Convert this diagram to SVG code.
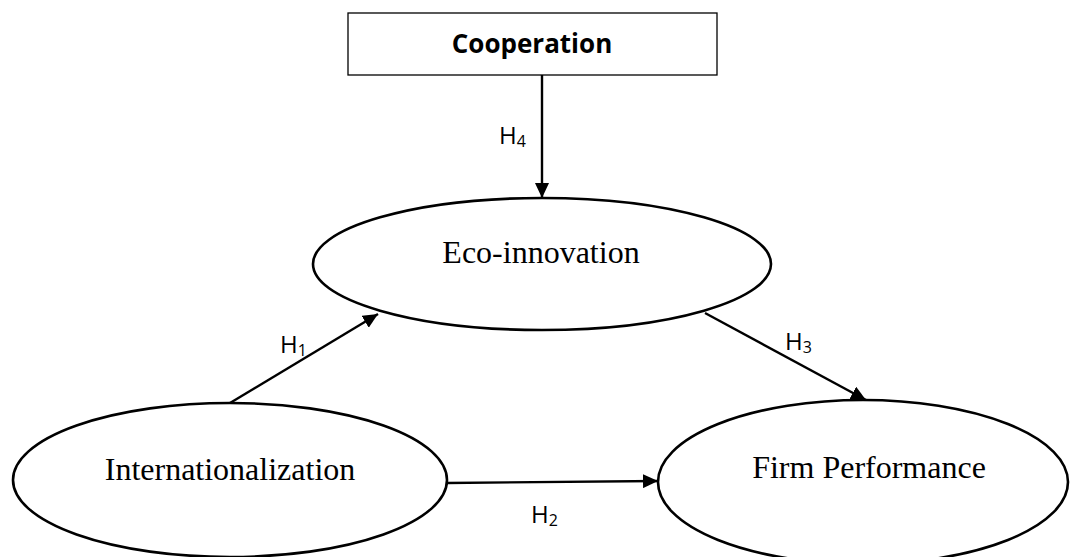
<svg xmlns="http://www.w3.org/2000/svg" width="1070" height="557" viewBox="0 0 1070 557">
<style>
.node{fill:#fff;stroke:#000;stroke-width:2.6}
.box{fill:#fff;stroke:#000;stroke-width:1.3}
.lbl{font-family:"Liberation Serif","Times New Roman",serif;font-size:32px;fill:#000;text-anchor:middle}
.bold{font-family:"Open Sans","Noto Sans",sans-serif;font-weight:bold;font-size:26px;fill:#000;text-anchor:middle}
.h{font-family:"Open Sans","Noto Sans",sans-serif;font-size:24px;fill:#000}
.sub{font-size:16px}
.edge{stroke:#000;stroke-width:2.4;fill:none;marker-end:url(#arr)}
</style>
<defs>
<marker id="arr" markerUnits="userSpaceOnUse" markerWidth="15" markerHeight="14" refX="15" refY="7" orient="auto">
<path d="M0,0 L15,7 L0,14 z" fill="#000"/>
</marker>
</defs>
<rect width="1070" height="557" fill="#fff"/>
<g id="connectors">
<line class="edge" x1="542" y1="75" x2="542" y2="198"/>
<line class="edge" x1="230" y1="403" x2="378" y2="314"/>
<line class="edge" x1="705" y1="313" x2="866" y2="400"/>
<line class="edge" x1="447" y1="483" x2="658" y2="481"/>
<text class="h" x="499" y="144">H<tspan class="sub" dy="3">4</tspan></text>
<text class="h" x="280" y="353">H<tspan class="sub" dy="3">1</tspan></text>
<text class="h" x="785" y="350">H<tspan class="sub" dy="3">3</tspan></text>
<text class="h" x="531" y="523">H<tspan class="sub" dy="3">2</tspan></text>
</g>
<g id="cooperation">
<rect class="box" x="348" y="13" width="369" height="62"/>
<text class="bold" x="532" y="53">Cooperation</text>
</g>
<g id="eco-innovation">
<ellipse class="node" cx="542" cy="264" rx="229" ry="66"/>
<text class="lbl" x="541" y="263">Eco-innovation</text>
</g>
<g id="internationalization">
<ellipse class="node" cx="230" cy="480" rx="217" ry="77"/>
<text class="lbl" x="230" y="480">Internationalization</text>
</g>
<g id="firm-performance">
<ellipse class="node" cx="863" cy="482" rx="205" ry="82"/>
<text class="lbl" x="869" y="478">Firm Performance</text>
</g>
</svg>
